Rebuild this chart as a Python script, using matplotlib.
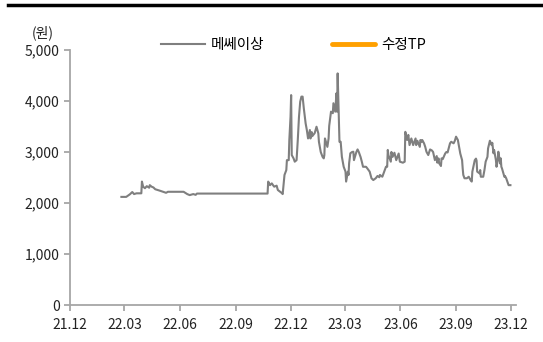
import pandas as pd
import matplotlib
matplotlib.use('Agg')
import matplotlib.pyplot as plt
import matplotlib.dates as mdates
from matplotlib.ticker import FuncFormatter

plt.rcParams['font.family'] = ['Noto Sans CJK KR', 'DejaVu Sans']

# 메쎄이상 주가 (원), 그림에서 읽은 값
dates = [
    '2022-02-24', '2022-03-04', '2022-03-10', '2022-03-14', '2022-03-17', '2022-03-21',
    '2022-03-29', '2022-03-30', '2022-04-01', '2022-04-04', '2022-04-07', '2022-04-11',
    '2022-04-12', '2022-04-15', '2022-04-18', '2022-04-21', '2022-04-29', '2022-05-09',
    '2022-05-12', '2022-06-07', '2022-06-13', '2022-06-17', '2022-06-23', '2022-06-27',
    '2022-06-29', '2022-10-24', '2022-10-25', '2022-10-28', '2022-10-31', '2022-11-02',
    '2022-11-04', '2022-11-08', '2022-11-10', '2022-11-14', '2022-11-16', '2022-11-18',
    '2022-11-21', '2022-11-24', '2022-11-25', '2022-11-28', '2022-11-29', '2022-12-01',
    '2022-12-02', '2022-12-03', '2022-12-06', '2022-12-08', '2022-12-11', '2022-12-13',
    '2022-12-15', '2022-12-17', '2022-12-19', '2022-12-21', '2022-12-23', '2022-12-26',
    '2022-12-28', '2022-12-30', '2023-01-02', '2023-01-03', '2023-01-05', '2023-01-06',
    '2023-01-10', '2023-01-13', '2023-01-16', '2023-01-17', '2023-01-20', '2023-01-23',
    '2023-01-25', '2023-01-26', '2023-01-27', '2023-01-31', '2023-02-02', '2023-02-03',
    '2023-02-06', '2023-02-09', '2023-02-10', '2023-02-13', '2023-02-15', '2023-02-16',
    '2023-02-17', '2023-02-20', '2023-02-22', '2023-02-24', '2023-02-27', '2023-03-02',
    '2023-03-03', '2023-03-06', '2023-03-07', '2023-03-08', '2023-03-10', '2023-03-13',
    '2023-03-15', '2023-03-16', '2023-03-20', '2023-03-22', '2023-03-24', '2023-03-27',
    '2023-03-29', '2023-03-31', '2023-04-03', '2023-04-05', '2023-04-07', '2023-04-11',
    '2023-04-14', '2023-04-17', '2023-04-21', '2023-04-24', '2023-04-27', '2023-04-28',
    '2023-05-02', '2023-05-04', '2023-05-08', '2023-05-10', '2023-05-11', '2023-05-12',
    '2023-05-16', '2023-05-17', '2023-05-19', '2023-05-22', '2023-05-25', '2023-05-29',
    '2023-05-31', '2023-06-05', '2023-06-08', '2023-06-09', '2023-06-12', '2023-06-14',
    '2023-06-16', '2023-06-19', '2023-06-22', '2023-06-26', '2023-06-27', '2023-06-29',
    '2023-07-03', '2023-07-04', '2023-07-06', '2023-07-07', '2023-07-10', '2023-07-12',
    '2023-07-14', '2023-07-17', '2023-07-20', '2023-07-23', '2023-07-25', '2023-07-28',
    '2023-07-31', '2023-08-01', '2023-08-03', '2023-08-04', '2023-08-07', '2023-08-08',
    '2023-08-10', '2023-08-14', '2023-08-16', '2023-08-18', '2023-08-22', '2023-08-24',
    '2023-08-28', '2023-08-30', '2023-09-01', '2023-09-04', '2023-09-06', '2023-09-08',
    '2023-09-11', '2023-09-12', '2023-09-13', '2023-09-15', '2023-09-19', '2023-09-22',
    '2023-09-25', '2023-09-27', '2023-09-28', '2023-10-02', '2023-10-04', '2023-10-05',
    '2023-10-06', '2023-10-10', '2023-10-11', '2023-10-12', '2023-10-16', '2023-10-17',
    '2023-10-18', '2023-10-20', '2023-10-23', '2023-10-24', '2023-10-26', '2023-10-27',
    '2023-10-30', '2023-10-31', '2023-11-02', '2023-11-03', '2023-11-06', '2023-11-07',
    '2023-11-09', '2023-11-10', '2023-11-13', '2023-11-14', '2023-11-15', '2023-11-16',
    '2023-11-20', '2023-11-21', '2023-11-23', '2023-11-24', '2023-11-27', '2023-11-30',
]
price = [
    2120, 2120, 2170, 2215, 2175, 2190,
    2190, 2420, 2320, 2290, 2330, 2300,
    2350, 2320, 2305, 2270, 2240, 2200,
    2220, 2220, 2175, 2155, 2175, 2160,
    2185, 2185, 2420, 2350, 2385, 2350,
    2320, 2340, 2255, 2220, 2200, 2175,
    2550, 2645, 2840, 2840, 3235, 3690,
    4115, 2940, 2875, 2810, 2840, 3235,
    3690, 3985, 4085, 4085, 3855, 3560,
    3430, 3265, 3430, 3265, 3390, 3310,
    3370, 3495, 3365, 3200, 3000, 2905,
    2875, 2940, 3265, 3100, 3265, 3510,
    3790, 3760, 3955, 3790, 4150, 3790,
    4540, 3200, 3200, 2905, 2710, 2615,
    2420, 2615, 2550, 2780, 2975, 3000,
    3005, 2840, 3000, 3050, 3000, 2900,
    2810, 2710, 2710, 2710, 2680, 2615,
    2485, 2450, 2485, 2530, 2505, 2550,
    2515, 2580, 2710, 2710, 3040, 2940,
    2810, 3000, 2905, 2985, 2840, 2970,
    2810, 2790, 2810, 3395, 3235, 3335,
    3135, 3265, 3135, 3265, 3135, 3220,
    3100, 3235, 3200, 3235, 3170, 3100,
    3005, 2940, 3050, 3030, 3000, 2840,
    2920, 2790, 2875, 2780, 2725, 2875,
    2860, 2970, 3000, 2990, 3170, 3200,
    3170, 3220, 3300, 3235, 3100, 2970,
    2840, 2675, 2550, 2485, 2485, 2515,
    2450, 2420, 2615, 2840, 2870, 2830,
    2615, 2580, 2645, 2515, 2515, 2580,
    2645, 2810, 2905, 3070, 3170, 3220,
    3135, 3180, 2975, 3040, 2840, 2710,
    2840, 3005, 2775, 2875, 2710, 2680,
    2515, 2530, 2485, 2450, 2350, 2350,
]
# 수정TP: 표시된 값 없음
tp_dates = []
tp_values = []

yticks = [0, 1000, 2000, 3000, 4000, 5000]

x = pd.to_datetime(dates)

fig = plt.figure(figsize=(5.43, 3.42), dpi=100)
ax = fig.add_axes([0.129, 0.108, 0.821, 0.746])

ax.plot(x, price, color='#7f7f7f', lw=1.5, label='메쎄이상')
ax.plot(pd.to_datetime(tp_dates), tp_values, color='#FFA000', lw=3.5, label='수정TP',
        solid_capstyle='round')

ax.set_ylim(0, 5000)
ax.set_yticks(yticks)
ax.yaxis.set_major_formatter(FuncFormatter(lambda v, p: f'{int(v):,}'))
ax.set_xlim(pd.Timestamp('2021-12-01'), pd.Timestamp('2023-12-09'))
ax.xaxis.set_major_locator(mdates.MonthLocator(bymonth=[3, 6, 9, 12]))
ax.xaxis.set_major_formatter(mdates.DateFormatter('%y.%m'))

for s in ['top', 'right']:
    ax.spines[s].set_visible(False)
for s in ['left', 'bottom']:
    ax.spines[s].set_color('#a6a6a6')
    ax.spines[s].set_linewidth(1.3)
ax.tick_params(axis='both', colors='#a6a6a6', length=4, width=1.3,
               labelcolor='#222222', labelsize=10)
ax.tick_params(axis='x', pad=5)

fig.text(0.079, 0.903, '(원)', fontsize=10, color='#222222', ha='center', va='center')

fig.legend(loc='center', bbox_to_anchor=(0.541, 0.868), ncol=2, frameon=False,
           fontsize=10.5, handlelength=3.0, handletextpad=0.4, columnspacing=4.6)

# 상단 굵은 선
fig.add_artist(plt.Line2D([0.015, 1.0], [0.984, 0.984], color='black', lw=2.5,
                          transform=fig.transFigure))

fig.savefig('out.png', dpi=100)
